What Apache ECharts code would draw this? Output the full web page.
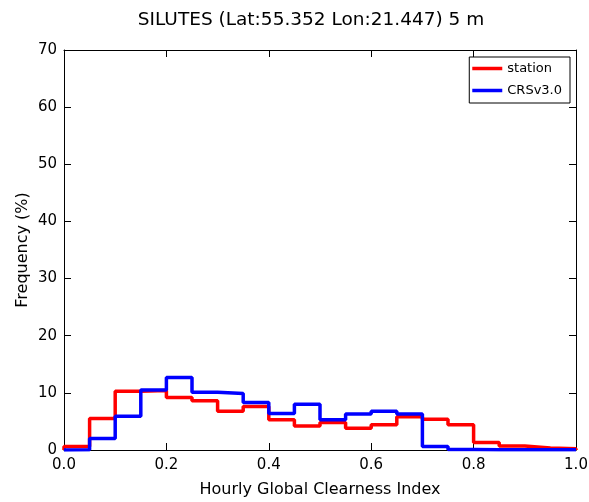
<!DOCTYPE html>
<html>
<head>
<meta charset="utf-8">
<script src="https://cdn.jsdelivr.net/npm/echarts@6/dist/echarts.min.js"></script>
<style>html,body{margin:0;padding:0;background:#fff}#c{width:589px;height:502px}</style>
</head>
<body>
<div id="c"></div>
<script>
const binEdges = [0.0,0.05,0.1,0.15,0.2,0.25,0.3,0.35,0.4,0.45,0.5,0.55,0.6,0.65,0.7,0.75,0.8,0.85,0.9,0.95,1.0];
const stationFreq = [0.6,5.5,10.3,10.4,9.2,8.6,6.8,7.6,5.3,4.2,4.8,3.8,4.4,5.8,5.4,4.4,1.3,0.7,0.35,0.2];
const crsFreq = [0.05,2.0,5.9,10.5,12.7,10.1,9.9,8.3,6.4,8.0,5.3,6.3,6.8,6.3,0.6,0.1,0.05,0.05,0.05,0.05];
const xTicks = [0.0,0.2,0.4,0.6,0.8,1.0];
const yTicks = [0,10,20,30,40,50,60,70];
const titleText = 'SILUTES (Lat:55.352 Lon:21.447) 5 m';

function stepData(vals){
  const d = [[binEdges[0],0]];
  for(let i=0;i<vals.length;i++) d.push([binEdges[i],vals[i]]);
  d.push([binEdges[binEdges.length-1],vals[vals.length-1]]);
  d.push([binEdges[binEdges.length-1],0]);
  return d;
}
const font = 'DejaVu Sans';
const chart = echarts.init(document.getElementById('c'));
const axX = (pos, showLabel) => ({
  type:'value', position:pos, min:xTicks[0], max:xTicks[xTicks.length-1], interval:0.2,
  name: showLabel ? 'Hourly Global Clearness Index' : '',
  nameLocation:'middle', nameGap:32,
  nameTextStyle:{fontFamily:font,fontSize:16,color:'#000'},
  axisLine:{show:true,onZero:false,lineStyle:{color:'#000',width:1}},
  axisTick:{show:true,inside:true,length:7,lineStyle:{color:'#000'}},
  axisLabel:{show:showLabel,fontFamily:font,fontSize:15,color:'#000',margin:8,formatter:v=>v.toFixed(1)},
  splitLine:{show:false}
});
const axY = (pos, showLabel) => ({
  type:'value', position:pos, min:yTicks[0], max:yTicks[yTicks.length-1], interval:10,
  name: showLabel ? 'Frequency (%)' : '',
  nameLocation:'middle', nameGap:33, nameMoveOverlap:false,
  nameTextStyle:{fontFamily:font,fontSize:16,color:'#000'},
  axisLine:{show:true,onZero:false,lineStyle:{color:'#000',width:1}},
  axisTick:{show:true,inside:true,length:7,lineStyle:{color:'#000'}},
  axisLabel:{show:showLabel,fontFamily:font,fontSize:15,color:'#000',margin:7},
  splitLine:{show:false}
});
chart.setOption({
  animation:false,
  backgroundColor:'#fff',
  graphic:[{type:'text',x:311,y:11,style:{text:titleText,align:'center',fontFamily:font,fontSize:18.5,fill:'#000'}}],
  grid:{left:64,right:13,top:50,bottom:52,containLabel:false,outerBoundsMode:'none'},
  xAxis:[axX('bottom',true),axX('top',false)],
  yAxis:[axY('left',true),axY('right',false)],
  legend:{
    right:19, top:57, orient:'vertical',
    backgroundColor:'#fff', borderColor:'#000', borderWidth:1, borderRadius:0,
    padding:[4,8,5,3], itemGap:7,
    itemWidth:30, itemHeight:3.5, icon:'rect',
    textStyle:{fontFamily:font,fontSize:13,lineHeight:15,color:'#000'},
    data:['station','CRSv3.0']
  },
  series:[
    {name:'station',type:'line',step:'end',symbol:'none',data:stepData(stationFreq),
     lineStyle:{color:'#ff0000',width:3.5},itemStyle:{color:'#ff0000'}},
    {name:'CRSv3.0',type:'line',step:'end',symbol:'none',data:stepData(crsFreq),
     lineStyle:{color:'#0000ff',width:3.5},itemStyle:{color:'#0000ff'}}
  ]
});
</script>
</body>
</html>
